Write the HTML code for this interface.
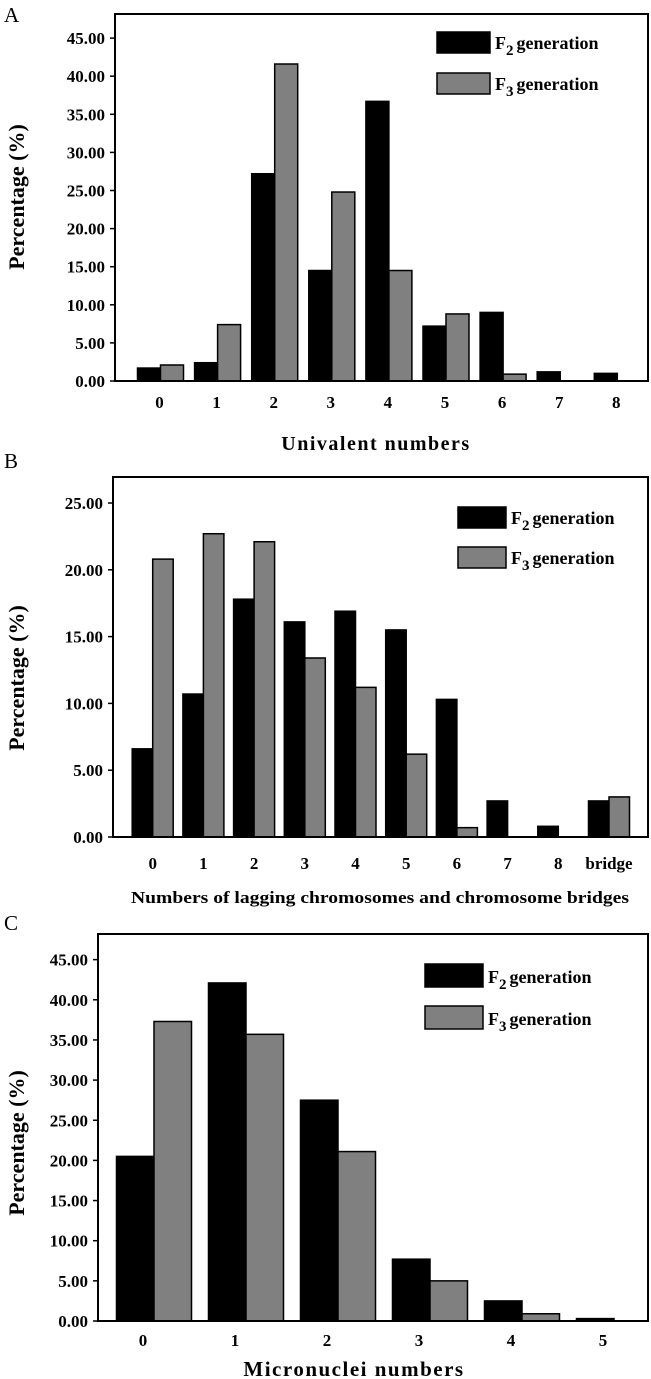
<!DOCTYPE html>
<html><head><meta charset="utf-8"><style>
html,body{margin:0;padding:0;background:#fff;}
svg{display:block;font-family:"Liberation Serif",serif;}
</style></head><body>
<svg id="fig" width="651" height="1379" viewBox="0 0 651 1379" xmlns="http://www.w3.org/2000/svg"></svg>
<script>
// Panel A data
const catsA = ["0","1","2","3","4","5","6","7","8"];
const f2A = [1.7, 2.4, 27.2, 14.5, 36.7, 7.2, 9.0, 1.2, 1.0];
const f3A = [2.1, 7.4, 41.6, 24.8, 14.5, 8.8, 0.9, 0, 0];
const ticksA = ["0.00","5.00","10.00","15.00","20.00","25.00","30.00","35.00","40.00","45.00"];
// Panel B data
const catsB = ["0","1","2","3","4","5","6","7","8","bridge"];
const f2B = [6.6, 10.7, 17.8, 16.1, 16.9, 15.5, 10.3, 2.7, 0.8, 2.7];
const f3B = [20.8, 22.7, 22.1, 13.4, 11.2, 6.2, 0.7, 0, 0, 3.0];
const ticksB = ["0.00","5.00","10.00","15.00","20.00","25.00"];
// Panel C data
const catsC = ["0","1","2","3","4","5"];
const f2C = [20.5, 42.1, 27.5, 7.7, 2.5, 0.3];
const f3C = [37.3, 35.7, 21.1, 5.0, 0.9, 0];
const ticksC = ["0.00","5.00","10.00","15.00","20.00","25.00","30.00","35.00","40.00","45.00"];

const NS = "http://www.w3.org/2000/svg";
const svg = document.getElementById("fig");
function mk(tag, attrs, parent) {
  const e = document.createElementNS(NS, tag);
  for (const k in attrs) e.setAttribute(k, attrs[k]);
  (parent || svg).appendChild(e);
  return e;
}

function panel(cfg) {
  const g = mk("g", {});
  
  
  const y = v => cfg.y0 - v / cfg.tickStep * cfg.pxPerStep;
  const xc = i => cfg.c0 + i * cfg.dx;
  // panel letter
  const L = mk("text", {x: 4, y: cfg.letterY, "font-size": 21}, g);
  L.textContent = cfg.letter;
  
  
  // bars
  cfg.f2.forEach((v, i) => {
    const r = mk("rect", {x: xc(i) - cfg.bw, y: y(v), width: cfg.bw, height: cfg.y0 - y(v), fill: "#000", stroke: "#000", "stroke-width": 1.5}, g);
    
    
  });
  cfg.f3.forEach((v, i) => {
    if (v <= 0) return;
    const r = mk("rect", {x: xc(i), y: y(v), width: cfg.bw, height: cfg.y0 - y(v), fill: "#808080", stroke: "#000", "stroke-width": 1.5}, g);
    
    
  });
  // frame
  const f = mk("rect", {x: cfg.fx1, y: cfg.fy1, width: cfg.fx2 - cfg.fx1, height: cfg.y0 - cfg.fy1, fill: "none", stroke: "#000", "stroke-width": 2}, g);
  
  
  // y ticks
  cfg.ticks.forEach((t, i) => {
    const ty = y(i * cfg.tickStep);
    mk("line", {x1: cfg.fx1 - 5, x2: cfg.fx1, y1: ty, y2: ty, stroke: "#000", "stroke-width": 1.5}, g);
    const tx = mk("text", {x: cfg.fx1 - 10, y: ty + 6, "font-size": 17, "font-weight": "bold", "text-anchor": "end"}, g);
    tx.textContent = t;
    
    
  });
  // x labels
  cfg.cats.forEach((c, i) => {
    const tx = mk("text", {x: xc(i) + cfg.labOff, y: cfg.xLabY, "font-size": 17, "font-weight": "bold", "text-anchor": "middle"}, g);
    tx.textContent = c;
    
    
  });
  // x title
  const xt = mk("text", {x: cfg.xTitleX, y: cfg.xTitleY, "font-size": cfg.xTitleSize, "font-weight": "bold", "text-anchor": "middle", "letter-spacing": cfg.xTitleLS}, g);
  if (cfg.xTitleLen) { xt.setAttribute("textLength", cfg.xTitleLen); xt.setAttribute("lengthAdjust", "spacingAndGlyphs"); }
  xt.textContent = cfg.xTitle;
  
  
  // y title
  const yt = mk("text", {x: 0, y: 0, "font-size": 22, "font-weight": "bold", "text-anchor": "middle", transform: "translate(24," + cfg.yTitleY + ") rotate(-90)"}, g);
  yt.textContent = "Percentage (%)";
  
  
  // legend
  [["#000", "2", cfg.legY1], ["#808080", "3", cfg.legY2]].forEach((l, k) => {
    const lg = mk("g", {}, g);
    
    
    mk("rect", {x: cfg.legX, y: l[2], width: cfg.legW, height: cfg.legH, fill: l[0], stroke: "#000", "stroke-width": 1.5}, lg);
    const t = mk("text", {x: cfg.legX + cfg.legW + 5, y: l[2] + cfg.legH - 4, "font-size": 18, "font-weight": "bold"}, lg);
    const a = mk("tspan", {}, t); a.textContent = "F";
    const b = mk("tspan", {dy: 6, "font-size": 15}, t); b.textContent = l[1];
    const c = mk("tspan", {dy: -6, dx: 3}, t); c.textContent = "generation";
  });
}

panel({id: "panel-a", letter: "A", letterY: 22, cats: catsA, f2: f2A, f3: f3A, ticks: ticksA,
  y0: 381, tickStep: 5, pxPerStep: 38.1, fx1: 115, fx2: 648, fy1: 14,
  c0: 160.5, dx: 57.1, bw: 23, labOff: -1, xLabY: 408,
  xTitle: "Univalent numbers", xTitleX: 376, xTitleY: 450, xTitleSize: 20, xTitleLS: 1.5, xTitleLen: 0,
  yTitleY: 197, legX: 437, legW: 53, legH: 21, legY1: 32, legY2: 73});

panel({id: "panel-b", letter: "B", letterY: 468, cats: catsB, f2: f2B, f3: f3B, ticks: ticksB,
  y0: 837, tickStep: 5, pxPerStep: 66.8, fx1: 113, fx2: 648, fy1: 477,
  c0: 152.7, dx: 50.7, bw: 20.5, labOff: 0, xLabY: 869,
  xTitle: "Numbers of lagging chromosomes and chromosome bridges", xTitleX: 380, xTitleY: 903, xTitleSize: 17, xTitleLS: 0, xTitleLen: 498,
  yTitleY: 678, legX: 458, legW: 48, legH: 21, legY1: 507, legY2: 547});

panel({id: "panel-c", letter: "C", letterY: 930, cats: catsC, f2: f2C, f3: f3C, ticks: ticksC,
  y0: 1321, tickStep: 5, pxPerStep: 40.15, fx1: 98, fx2: 648, fy1: 934,
  c0: 154, dx: 92, bw: 37.5, labOff: -11, xLabY: 1346,
  xTitle: "Micronuclei numbers", xTitleX: 354, xTitleY: 1376, xTitleSize: 21, xTitleLS: 1.5, xTitleLen: 0,
  yTitleY: 1143, legX: 425, legW: 58, legH: 23, legY1: 964, legY2: 1006});
</script>
</body></html>
